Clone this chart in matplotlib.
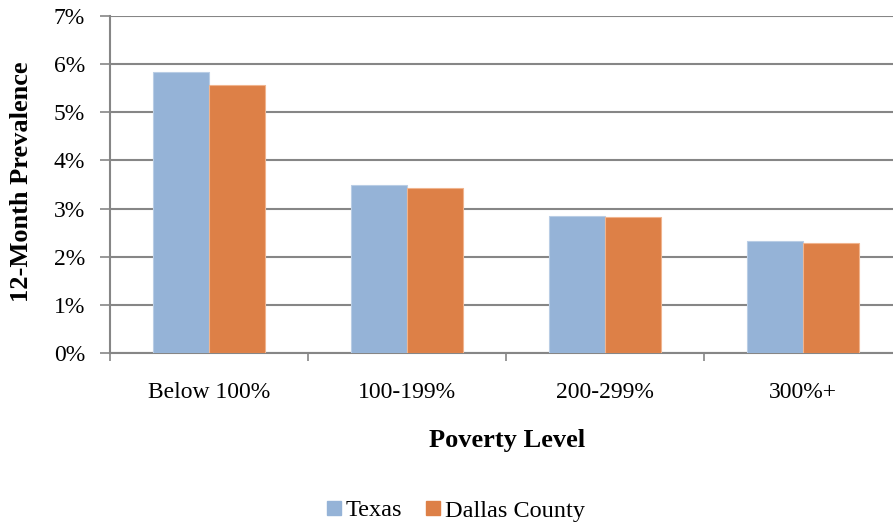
import matplotlib
matplotlib.use("Agg")
import matplotlib.pyplot as plt
import numpy as np
from matplotlib.ticker import FuncFormatter, FixedLocator
from matplotlib.patches import Patch

categories = ["Below 100%", "100-199%", "200-299%", "300%+"]
texas = [5.84, 3.49, 2.85, 2.33]
dallas = [5.56, 3.43, 2.82, 2.29]
series_names = ["Texas", "Dallas County"]
colors = ["#95B3D7", "#DD8047"]
edge_colors = ["#B9CDE5", "#F0B48E"]

plt.rcParams['font.family'] = ['Liberation Serif', 'DejaVu Serif']

W, H = 893, 525
fig = plt.figure(figsize=(W / 100, H / 100), dpi=100)
left, right, top, bottom = 110, 902, 16, 353
ax = fig.add_axes([left / W, 1 - bottom / H, (right - left) / W, (bottom - top) / H])

x = np.arange(len(categories))
bw = 0.285
ax.bar(x - bw / 2, texas, bw, color=colors[0], edgecolor=edge_colors[0], linewidth=0.8, zorder=3)
ax.bar(x + bw / 2, dallas, bw, color=colors[1], edgecolor=edge_colors[1], linewidth=0.8, zorder=3)

ax.set_xlim(-0.5, len(categories) - 0.5)
ax.set_ylim(0, 7)
ax.set_yticks(np.arange(0, 8, 1))
ax.yaxis.set_major_formatter(FuncFormatter(lambda v, p: f"{int(v)}%"))
ax.yaxis.grid(True, color="#868686", linewidth=1.5, zorder=0)
ax.set_axisbelow(True)

ax.set_xticks(x)
ax.set_xticklabels(categories, fontsize=17)
ax.xaxis.set_minor_locator(FixedLocator(np.arange(-0.5, len(categories), 1)))
ax.tick_params(axis='x', which='major', length=0, pad=21)
ax.tick_params(axis='x', which='minor', length=6, width=1.2, color="#868686")
ax.tick_params(axis='y', length=7, width=1.2, color="#868686", labelsize=17, pad=11)

for s in ["top", "right"]:
    ax.spines[s].set_visible(False)
for s in ["left", "bottom"]:
    ax.spines[s].set_color("#868686")
    ax.spines[s].set_linewidth(1.5)

fig.text(22 / W, 1 - 182 / H, "12-Month Prevalence", fontsize=19, fontweight="bold",
         rotation=90, ha="center", va="center")
fig.text(507 / W, 1 - 440 / H, "Poverty Level", fontsize=19, fontweight="bold", ha="center", va="center")

handles = [Patch(facecolor=colors[i], edgecolor=colors[i], label=series_names[i]) for i in range(2)]
fig.legend(handles=handles, loc="center", bbox_to_anchor=(456 / W, 1 - 511 / H), ncol=2, frameon=False,
           fontsize=17.5, handlelength=0.55, handleheight=0.55, handletextpad=0.2, columnspacing=1.0,
           borderpad=0, borderaxespad=0)

fig.savefig("out.png", dpi=100)
